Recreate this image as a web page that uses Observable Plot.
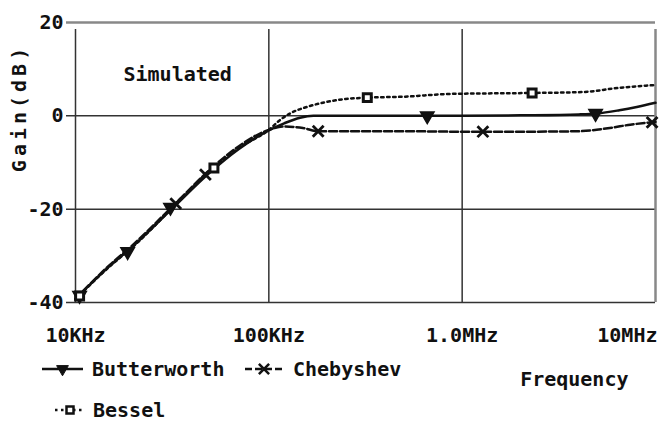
<!DOCTYPE html>
<html>
<head>
<meta charset="utf-8">
<script src="https://cdn.jsdelivr.net/npm/d3@7"></script>
<script src="https://cdn.jsdelivr.net/npm/@observablehq/plot@0.6"></script>
<style>
  html, body { margin: 0; padding: 0; background: #fff; }
  #chart { width: 662px; height: 424px; }
</style>
</head>
<body>
<div id="chart"></div>
<script>
// ---- data ----
const xTicks = [1e4, 1e5, 1e6, 1e7];
const xLabels = ["10KHz", "100KHz", "1.0MHz", "10MHz"];
const yTicks = [20, 0, -20, -40];

const bwFreq = [10e3, 15e3, 20e3, 31.6e3, 50e3, 70e3, 100e3, 120e3, 145e3, 170e3, 250e3, 500e3, 1e6, 2e6, 4e6, 5e6, 6.5e6, 8e6, 10e6];
const bwGain = [-39.2, -32.2, -27.8, -19.9, -12.0, -7.1, -3.1, -1.6, -0.4, 0, 0, 0, 0, 0.1, 0.3, 0.5, 1.2, 1.9, 2.8];

const chFreq = [10e3, 15e3, 20e3, 31.6e3, 50e3, 70e3, 100e3, 120e3, 150e3, 180e3, 250e3, 500e3, 1e6, 2e6, 4e6, 5.8e6, 7.4e6, 10e6];
const chGain = [-39.2, -32.0, -27.5, -19.5, -11.4, -6.5, -3.0, -2.3, -2.6, -3.3, -3.3, -3.3, -3.4, -3.4, -3.3, -2.6, -1.9, -1.3];

const bsFreq = [10e3, 15e3, 20e3, 31.6e3, 50e3, 70e3, 100e3, 115e3, 130e3, 160e3, 200e3, 250e3, 323e3, 500e3, 870e3, 2.3e6, 4.2e6, 6.5e6, 10e6];
const bsGain = [-39.3, -32.3, -27.9, -19.8, -11.7, -6.9, -3.0, -0.8, 0.6, 2.0, 3.0, 3.6, 3.9, 4.1, 4.7, 4.9, 5.1, 6.0, 6.6];

const bwMarkF = [10.5e3, 18.6e3, 31e3, 660e3, 4.9e6];
const bwMarkG = [-38.5, -29.1, -19.6, 0, 0.5];
const chMarkF = [33e3, 47e3, 180e3, 1.28e6, 9.6e6];
const chMarkG = [-18.8, -12.6, -3.3, -3.4, -1.4];
const bsMarkF = [10.5e3, 52e3, 323e3, 2.3e6];
const bsMarkG = [-38.6, -11.2, 3.9, 4.9];

const seriesNames = ["Butterworth", "Chebyshev", "Bessel"];
const yLabel = "Gain(dB)";
const xLabel = "Frequency";
const note = "Simulated";

// ---- build tables ----
const zip = (f, g) => f.map((v, i) => ({f: v, g: g[i]}));
const bw = zip(bwFreq, bwGain), ch = zip(chFreq, chGain), bs = zip(bsFreq, bsGain);
const bwM = zip(bwMarkF, bwMarkG), chM = zip(chMarkF, chMarkG), bsM = zip(bsMarkF, bsMarkG);

const FONT = "DejaVu Sans Mono";
const txt = {fontFamily: FONT, fontWeight: "bold", fontSize: 20, fill: "#111", lineAnchor: "middle"};

const plot = Plot.plot({
  width: 662, height: 424,
  marginLeft: 75, marginRight: 7, marginTop: 22, marginBottom: 122,
  x: {type: "log", domain: [1e4, 1e7], axis: null},
  y: {domain: [-40, 20], axis: null},
  style: {background: "#fff"},
  marks: [
    // grid
    Plot.ruleX(xTicks.slice(0, 3), {x: d => d, y1: -40, y2: 20, stroke: "#333", strokeWidth: 1.5, insetBottom: -7}),
    Plot.ruleY(yTicks.slice(1), {y: d => d, stroke: "#333", strokeWidth: 1.5, insetLeft: -9}),
    // frame top/right (gray)
    Plot.ruleY([20], {y: d => d, stroke: "#888", strokeWidth: 2.5, insetLeft: -9}),
    Plot.ruleX([1e7], {x: d => d, y1: -40, y2: 20, stroke: "#888", strokeWidth: 2.5, insetBottom: -7}),
    // series
    Plot.line(bs, {x: "f", y: "g", curve: "monotone-x", stroke: "#111", strokeWidth: 2.5, strokeDasharray: "2.5,3.5"}),
    Plot.line(ch, {x: "f", y: "g", curve: "monotone-x", stroke: "#111", strokeWidth: 2.5, strokeDasharray: "8,3"}),
    Plot.line(bw, {x: "f", y: "g", curve: "monotone-x", stroke: "#111", strokeWidth: 2.5}),
    // markers
    Plot.dot(bwM, {x: "f", y: "g", symbol: "triangle", rotate: 180, r: 5, fill: "#111", stroke: "#111"}),
    Plot.dot(chM, {x: "f", y: "g", symbol: "times", r: 5, stroke: "#111", strokeWidth: 2.8}),
    Plot.dot(bsM, {x: "f", y: "g", symbol: "square", r: 4.5, fill: "#fff", stroke: "#111", strokeWidth: 3}),
    // tick labels
    Plot.text(xTicks.slice(0, 3), {x: d => d, text: (d, i) => xLabels[i], frameAnchor: "bottom", dy: 33, ...txt}),
    Plot.text(xTicks.slice(3), {x: d => d, text: () => xLabels[3], frameAnchor: "bottom", dy: 33, dx: 2, textAnchor: "end", ...txt}),
    Plot.text(yTicks, {y: d => d, text: d => String(d), frameAnchor: "left", textAnchor: "end", dx: -12, ...txt}),
    // annotations
    Plot.text([note], {text: d => d, frameAnchor: "top-left", textAnchor: "start", dx: 48, dy: 52, ...txt}),
    Plot.text([xLabel], {text: d => d, frameAnchor: "bottom-right", textAnchor: "end", dx: -27, dy: 77, ...txt})
  ]
});

const svg = d3.select(plot);
// y axis label
svg.append("text")
  .attr("transform", "translate(19,108) rotate(-90)")
  .attr("text-anchor", "middle").attr("dy", "0.35em")
  .attr("font-family", FONT).attr("font-weight", "bold").attr("font-size", 20)
  .attr("letter-spacing", 4).attr("fill", "#111")
  .text(yLabel);

// legend (drawn in the SVG below the plot area)
const lg = svg.append("g").attr("fill", "#111").attr("stroke", "#111").attr("text-anchor", "start");
function legendItem(x1, x2, y, dash, sym, tx, label) {
  const g = lg.append("g");
  g.append("line").attr("x1", x1).attr("x2", x2).attr("y1", y).attr("y2", y)
    .attr("stroke-width", 2.5).attr("stroke-dasharray", dash);
  const mx = (x1 + x2) / 2;
  if (sym === "tri") {
    g.append("path").attr("d", d3.symbol(d3.symbolTriangle, 60)()).attr("transform", `translate(${mx},${y}) rotate(180)`);
  } else if (sym === "x") {
    g.append("path").attr("d", d3.symbol(d3.symbolTimes, 70)()).attr("transform", `translate(${mx},${y})`).attr("fill", "none").attr("stroke-width", 2.5);
  } else {
    g.append("rect").attr("x", mx - 3.5).attr("y", y - 3.5).attr("width", 7).attr("height", 7).attr("fill", "#fff").attr("stroke-width", 2.5);
  }
  g.append("text").attr("x", tx).attr("y", y).attr("dy", "0.35em").attr("stroke", "none")
    .attr("text-anchor", "start")
    .attr("font-family", FONT).attr("font-weight", "bold").attr("font-size", 20).text(label);
}
legendItem(42, 83, 369, null, "tri", 92, seriesNames[0]);
legendItem(245, 283, 369, "7,3", "x", 293, seriesNames[1]);
legendItem(55, 85, 410, "2.5,3.5", "sq", 93, seriesNames[2]);

document.getElementById("chart").appendChild(plot);
</script>
</body>
</html>
